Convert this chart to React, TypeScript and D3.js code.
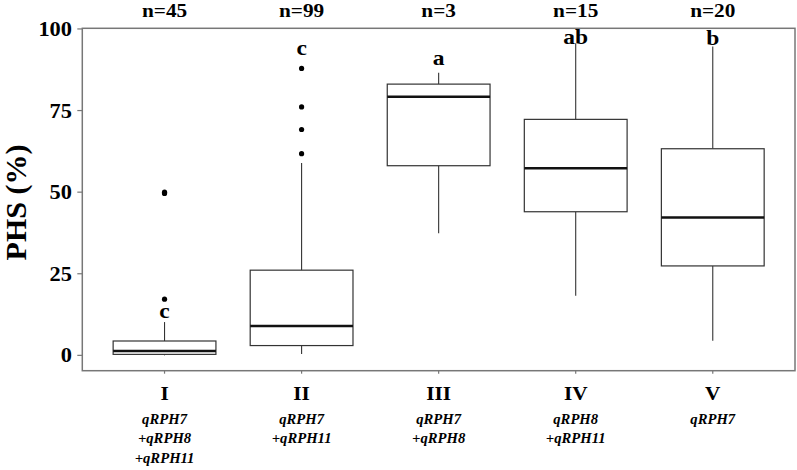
import React from "react";
import * as d3 from "d3";

// Group order along the x axis
const groups = ["I", "II", "III", "IV", "V"];
const genotypes = [
  ["qRPH7", "+qRPH8", "+qRPH11"],
  ["qRPH7", "+qRPH11"],
  ["qRPH7", "+qRPH8"],
  ["qRPH8", "+qRPH11"],
  ["qRPH7"],
];
const counts = [45, 99, 3, 15, 20];
const letters = ["c", "c", "a", "ab", "b"];

// Five-number summaries (PHS %)
const lowWhisker = [0, 0.4, 37.4, 18.3, 4.5];
const q1 = [0.3, 3.0, 58.1, 44.0, 27.4];
const median = [1.3, 9.0, 79.2, 57.3, 42.2];
const q3 = [4.4, 26.1, 83.1, 72.3, 63.3];
const highWhisker = [10.2, 58.9, 86.6, 95.6, 94.6];
const outliers = [
  [17.2, 49.6, 50.0],
  [61.8, 69.2, 76.1, 87.9],
  [],
  [],
  [],
];
// Height of the significance letter baseline above the data
const letterValues = [11.5, 92.0, 89.0, 95.5, 95.0];

const yTicks = [0, 25, 50, 75, 100];

const W = 797;
const H = 470;
const plot = { left: 82.3, right: 795, top: 28.3, bottom: 370.7 };

const font = "Liberation Serif";

function SText(props: {
  x: number;
  y: number;
  sx?: number;
  size: number;
  anchor?: string;
  italic?: boolean;
  children: React.ReactNode;
}) {
  const { x, y, sx = 1.12, size, anchor = "middle", italic, children } = props;
  return (
    <text
      transform={`translate(${x},${y}) scale(${sx},1)`}
      textAnchor={anchor}
      fontFamily={font}
      fontWeight="bold"
      fontStyle={italic ? "italic" : "normal"}
      fontSize={size}
      fill="#000"
    >
      {children}
    </text>
  );
}

export default function App() {
  const x = d3.scaleLinear().domain([0.4, 5.6]).range([plot.left, plot.right]);
  const y = d3
    .scaleLinear()
    .domain([-4.7, 100.2])
    .range([plot.bottom, plot.top]);
  const halfBox = 0.375;

  return (
    <svg
      width={W}
      height={H}
      style={{ position: "absolute", left: 0, top: 0, background: "#fff" }}
    >
      {/* frame */}
      <rect
        x={plot.left}
        y={plot.top}
        width={plot.right - plot.left}
        height={plot.bottom - plot.top}
        fill="none"
        stroke="#777"
        strokeWidth={1.5}
      />

      {/* y axis */}
      {yTicks.map((t) => (
        <g key={t}>
          <line
            x1={plot.left - 5}
            x2={plot.left}
            y1={y(t)}
            y2={y(t)}
            stroke="#777"
            strokeWidth={1.2}
          />
          <SText x={72} y={y(t) + 7} size={20} anchor="end">
            {t}
          </SText>
        </g>
      ))}
      <text
        transform={`translate(26,${202.5}) rotate(-90)`}
        textAnchor="middle"
        fontFamily={font}
        fontWeight="bold"
        fontSize={30}
      >
        PHS (%)
      </text>

      {groups.map((g, i) => {
        const cx = x(i + 1);
        const x0 = x(i + 1 - halfBox);
        const x1 = x(i + 1 + halfBox);
        return (
          <g key={g}>
            {/* x tick */}
            <line
              x1={cx}
              x2={cx}
              y1={plot.bottom}
              y2={plot.bottom + 3}
              stroke="#777"
              strokeWidth={1.2}
            />
            {/* whiskers */}
            <line
              x1={cx}
              x2={cx}
              y1={y(q3[i])}
              y2={y(highWhisker[i])}
              stroke="#333"
              strokeWidth={1.1}
            />
            <line
              x1={cx}
              x2={cx}
              y1={y(q1[i])}
              y2={y(lowWhisker[i])}
              stroke="#333"
              strokeWidth={1.1}
            />
            {/* box */}
            <rect
              x={x0}
              y={y(q3[i])}
              width={x1 - x0}
              height={y(q1[i]) - y(q3[i])}
              fill="#fff"
              stroke="#333"
              strokeWidth={1.2}
            />
            <line
              x1={x0}
              x2={x1}
              y1={y(median[i])}
              y2={y(median[i])}
              stroke="#111"
              strokeWidth={2.5}
            />
            {/* outliers */}
            {outliers[i].map((v, k) => (
              <circle key={k} cx={cx} cy={y(v)} r={2.6} fill="#000" />
            ))}
            {/* significance letter */}
            <SText x={cx} y={y(letterValues[i])} size={21}>
              {letters[i]}
            </SText>
            {/* sample size */}
            <SText x={cx} y={17} size={19}>
              {`n=${counts[i]}`}
            </SText>
            {/* group label */}
            <SText x={cx} y={399.5} size={19}>
              {g}
            </SText>
            {genotypes[i].map((gt, k) => (
              <SText
                key={k}
                x={cx}
                y={423.5 + k * 19.7}
                size={14}
                sx={1.05}
                italic
              >
                {gt}
              </SText>
            ))}
          </g>
        );
      })}
    </svg>
  );
}
